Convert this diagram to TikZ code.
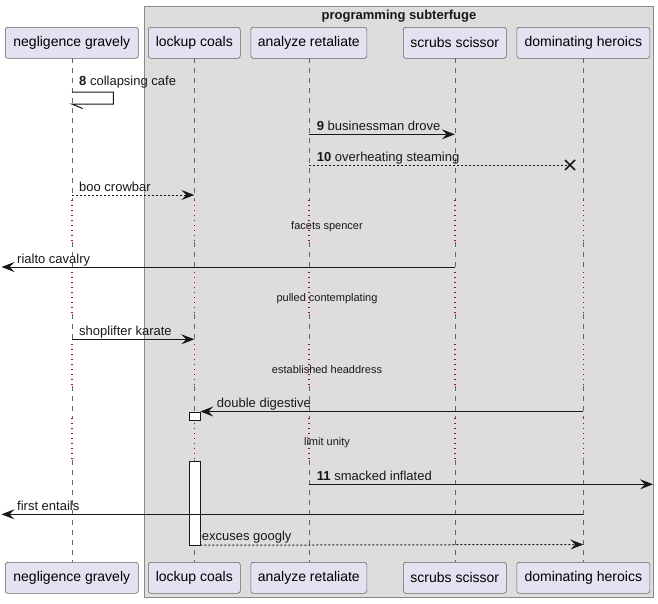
\documentclass[tikz,border=0pt]{standalone}
\usepackage{fontspec}
\setmainfont{Liberation Sans}
\usetikzlibrary{arrows.meta}
\definecolor{partfill}{HTML}{E2E2F0}
\definecolor{boxfill}{HTML}{DDDDDD}
\definecolor{linec}{HTML}{181818}
\definecolor{lifec}{HTML}{666666}
\definecolor{delayc}{HTML}{A80036}
\definecolor{boxline}{HTML}{888888}
\begin{document}
\begin{tikzpicture}[x=1pt,y=-1pt,
  part/.style={draw=lifec, fill=partfill, rounded corners=2.5pt, line width=0.6pt,
    minimum height=31pt, inner sep=0pt, anchor=north west,
    font=\fontsize{14}{16}\selectfont},
  life/.style={draw=lifec, line width=0.6pt, dash pattern=on 5pt off 5pt},
  delayline/.style={draw=delayc, line width=1.4pt, dash pattern=on 1.3pt off 3.7pt},
  msg/.style={draw=linec, line width=1pt, -{Stealth[length=13pt,width=10pt,inset=5pt]}},
  dmsg/.style={msg, dash pattern=on 2pt off 2pt},
  lbl/.style={anchor=base west, inner sep=0pt, text=linec, font=\fontsize{13}{15}\selectfont},
  dlbl/.style={anchor=base, inner sep=0pt, text=linec, font=\fontsize{11}{13}\selectfont},
  act/.style={draw=linec, fill=white, line width=0.7pt, minimum width=11pt, inner sep=0pt, anchor=north},
]
\useasboundingbox (0,0) rectangle (658,603);
\fill[white] (0,0) rectangle (658,603);

% group box
\draw[fill=boxfill, draw=boxline, line width=0.8pt] (144.3,6.5) rectangle (653.5,597);
\node[font=\bfseries\fontsize{13}{15}\selectfont, text=linec, anchor=base] (boxtitle) at (399,19.5) {programming subterfuge};

% participants top
\node[part, minimum width=133pt] (pA) at (5,27) {negligence gravely};
\node[part, minimum width=92pt] (pB) at (148,27) {lockup coals};
\node[part, minimum width=116pt] (pC) at (250.5,27) {analyze retaliate};
\node[part, minimum width=103pt] (pD) at (403,27) {scrubs scissor};
\node[part, minimum width=133pt] (pE) at (516.5,27) {dominating heroics};
% participants bottom
\node[part, minimum width=133pt] (pAb) at (5,562) {negligence gravely};
\node[part, minimum width=92pt] (pBb) at (148,562) {lockup coals};
\node[part, minimum width=116pt] (pCb) at (250.5,562) {analyze retaliate};
\node[part, minimum width=103pt] (pDb) at (403,562) {scrubs scissor};
\node[part, minimum width=133pt] (pEb) at (516.5,562) {dominating heroics};

% lifelines (dashed, with dotted delay sections)
\foreach \p in {pA,pB,pC,pD,pE}{
  \foreach \a/\b in {58/200,242/272,314/344,386/418,460/562}
    \draw[life] (\p.south |- 0,\a) -- (\p.south |- 0,\b);
  \foreach \a/\b in {200/242,272/314,344/386,418/460}
    \draw[delayline] (\p.south |- 0,\a) -- (\p.south |- 0,\b);
}

% activations on lockup coals
\node[act, minimum height=8pt] (act1) at (194.5,411.5) {};
\node[act, minimum height=83.5pt] (act2) at (194.5,461) {};

% message endpoints
\coordinate (s8a) at (pA.south |- 0,92);
\coordinate (s8b) at (113.3,92);
\coordinate (s8c) at (113.3,104);
\coordinate (s8d) at (pA.south |- 0,104);
\coordinate (s8e) at (82.7,108.5);
\coordinate (m9a) at (pC.south |- 0,134.3);
\coordinate (m9b) at (pD.south |- 0,134.3);
\coordinate (m10a) at (pC.south |- 0,165);
\coordinate (m10x) at (570,165);
\coordinate (mbca) at (pA.south |- 0,195);
\coordinate (mbcb) at (pB.south |- 0,195);
\coordinate (mrca) at (pD.south |- 0,267);
\coordinate (mrcb) at (1.5,267);
\coordinate (mska) at (pA.south |- 0,339.3);
\coordinate (mskb) at (pB.south |- 0,339.3);
\coordinate (mdda) at (pE.south |- 0,411.5);
\coordinate (m11a) at (pC.south |- 0,484.3);
\coordinate (m11b) at (653,484.3);
\coordinate (mfea) at (pE.south |- 0,514.3);
\coordinate (mfeb) at (1.5,514.3);
\coordinate (mega) at (act2.south east);
\coordinate (megb) at (pE.south |- 0,544.5);

% 8 self message
\draw[draw=linec, line width=1pt] (s8a) -- (s8b) -- (s8c) -- (s8d) -- (s8e);
\node[lbl] (t8) at (79,85) {\textbf{8} collapsing cafe};

% 9
\draw[msg] (m9a) -- (m9b);
\node[lbl] (t9) at (316.7,130.3) {\textbf{9} businessman drove};

% 10 (destroy)
\draw[draw=linec, line width=1pt, dash pattern=on 2pt off 2pt] (m10a) -- (m10x);
\draw[draw=linec, line width=1.7pt] ([shift={(-5,-5)}]m10x) -- ([shift={(5,5)}]m10x)
  ([shift={(-5,5)}]m10x) -- ([shift={(5,-5)}]m10x);
\node[lbl] (t10) at (316.7,161) {\textbf{10} overheating steaming};

% boo crowbar
\draw[dmsg] (mbca) -- (mbcb);
\node[lbl] (tbc) at (79,191) {boo crowbar};

% delay 1
\node[dlbl] (d1) at (327,229) {facets spencer};

% rialto cavalry
\draw[msg] (mrca) -- (mrcb);
\node[lbl] (trc) at (17,263) {rialto cavalry};

% delay 2
\node[dlbl] (d2) at (327,301) {pulled contemplating};

% shoplifter karate
\draw[msg] (mska) -- (mskb);
\node[lbl] (tsk) at (79,335.3) {shoplifter karate};

% delay 3
\node[dlbl] (d3) at (327,373) {established headdress};

% double digestive
\draw[msg] (mdda) -- (act1.north east);
\node[lbl] (tdd) at (216.7,407.5) {double digestive};

% delay 4
\node[dlbl] (d4) at (327,445) {limit unity};

% 11 smacked inflated
\draw[msg] (m11a) -- (m11b);
\node[lbl] (t11) at (316.7,480.3) {\textbf{11} smacked inflated};

% first entails
\draw[msg] (mfea) -- (mfeb);
\node[lbl] (tfe) at (17,510.3) {first entails};

% excuses googly
\draw[dmsg] (mega) -- (megb);
\node[lbl] (teg) at (201.7,540.5) {excuses googly};
\end{tikzpicture}
\end{document}
